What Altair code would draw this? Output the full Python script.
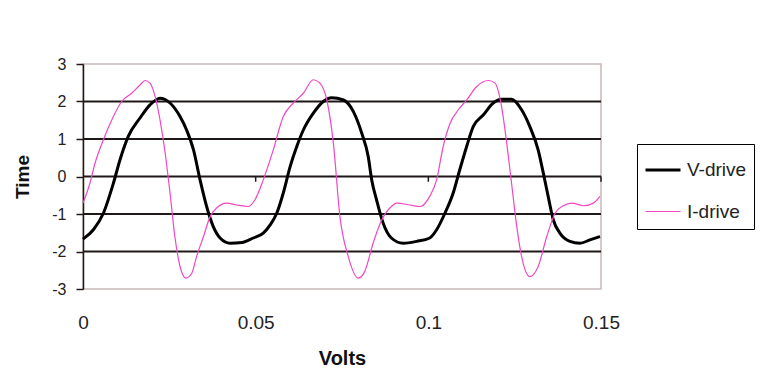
import altair as alt
import pandas as pd

# V-drive (black, thick)
v_x = [0.0, 0.003, 0.0059, 0.0088, 0.0107, 0.0131, 0.0165, 0.0194, 0.0223, 0.0252, 0.0281, 0.030,
       0.032, 0.0339, 0.0358, 0.0377, 0.0397, 0.0426, 0.046, 0.0493, 0.0522, 0.0542, 0.0561, 0.058,
       0.060, 0.0619, 0.0638, 0.0667, 0.0696, 0.072, 0.0754, 0.0783, 0.0807, 0.0826, 0.0836, 0.085,
       0.0869, 0.0893, 0.0927, 0.0966, 0.1004, 0.1024, 0.1048, 0.1072, 0.1091, 0.1111, 0.113, 0.1159,
       0.1188, 0.1212, 0.1241, 0.127, 0.1294, 0.1318, 0.1333, 0.1347, 0.1362, 0.1381, 0.141, 0.1439,
       0.1468, 0.1497]
v_y = [-1.67, -1.42, -0.98, -0.18, 0.44, 1.07, 1.56, 1.91, 2.09, 1.96, 1.6, 1.24,
       0.71, -0.09, -0.8, -1.33, -1.64, -1.78, -1.76, -1.64, -1.51, -1.29, -0.98, -0.44,
       0.27, 0.8, 1.24, 1.69, 2.0, 2.1, 2.04, 1.73, 1.16, 0.53, -0.09, -0.62,
       -1.24, -1.64, -1.78, -1.73, -1.64, -1.42, -0.98, -0.44, 0.18, 0.8, 1.33, 1.64,
       1.96, 2.06, 2.06, 1.78, 1.33, 0.71, 0.09, -0.53, -1.16, -1.51, -1.73, -1.78,
       -1.69, -1.6]

# I-drive (pink, thin)
i_x = [0.0, 0.002, 0.0035, 0.0059, 0.0088, 0.0112, 0.0141, 0.0165, 0.018, 0.0194, 0.0209, 0.0223,
       0.0238, 0.0252, 0.0266, 0.0281, 0.0298, 0.0315, 0.0329, 0.0349, 0.0368, 0.0387, 0.0416, 0.0445,
       0.0479, 0.0498, 0.0522, 0.0551, 0.058, 0.0609, 0.0638, 0.0667, 0.0686, 0.0706, 0.0725, 0.0744,
       0.0768, 0.0797, 0.0816, 0.084, 0.0865, 0.0893, 0.0908, 0.0947, 0.0976, 0.1004, 0.1024, 0.1043,
       0.1063, 0.1087, 0.1111, 0.114, 0.1174, 0.1193, 0.1212, 0.1227, 0.1241, 0.1256, 0.127, 0.1294,
       0.1318, 0.1343, 0.1367, 0.1391, 0.1415, 0.145, 0.1478, 0.1497]
i_y = [-0.71, -0.18, 0.36, 0.98, 1.6, 2.0, 2.22, 2.44, 2.56, 2.49, 2.13, 1.51,
       0.62, -0.44, -1.6, -2.4, -2.71, -2.58, -2.13, -1.6, -1.07, -0.84, -0.71, -0.76,
       -0.8, -0.62, -0.09, 0.71, 1.6, 1.96, 2.22, 2.58, 2.49, 2.04, 0.89, -1.07,
       -2.13, -2.71, -2.53, -1.78, -1.16, -0.8, -0.71, -0.76, -0.8, -0.53, -0.09, 0.8,
       1.42, 1.78, 2.04, 2.4, 2.56, 2.49, 1.87, 0.89, -0.18, -1.33, -2.13, -2.67,
       -2.4, -1.6, -0.98, -0.78, -0.71, -0.78, -0.71, -0.53]

series_names = ["V-drive", "I-drive"]
series_colors = ["#000000", "#f048c4"]
series_widths = [3, 1.2]

grid_values = [2, 1, 0, -1, -2]
x_tick_values = [0, 0.05, 0.1, 0.15]
y_tick_values = [3, 2, 1, 0, -1, -2, -3]
zero_ticks = [0.05, 0.1, 0.15]

df = pd.concat([
    pd.DataFrame({"x": v_x, "y": v_y, "series": series_names[0], "order": range(len(v_x))}),
    pd.DataFrame({"x": i_x, "y": i_y, "series": series_names[1], "order": range(len(i_x))}),
])

xscale = alt.Scale(domain=[0, 0.15], nice=False, zero=False)
yscale = alt.Scale(domain=[-3, 3], nice=False)

xaxis = alt.Axis(values=x_tick_values, labelExpr="'' + datum.value", grid=False, domain=False,
                 ticks=False, labelFlush=False, labelOverlap=False,
                 labelFontSize=19, labelPadding=24, titleFontSize=20, titlePadding=16)
yaxis = alt.Axis(values=y_tick_values, grid=False, domain=True,
                 labelExpr="datum.value < 0 ? '-' + abs(datum.value) : '' + datum.value",
                 domainColor="#201818", domainWidth=1.5, tickColor="#201818",
                 tickSize=7, tickWidth=1.5, labelFontSize=16, labelPadding=10,
                 labelFlush=False, labelOverlap=False,
                 titleFontSize=19, titlePadding=19)

grid = alt.Chart(pd.DataFrame({"g": grid_values})).mark_rule(
    color="#201818", strokeWidth=2
).encode(y=alt.Y("g:Q", scale=yscale, title="Time", axis=yaxis))

zt = alt.Chart(pd.DataFrame({"t": zero_ticks, "a": 0, "b": -0.14})).mark_rule(
    color="#201818", strokeWidth=1.5
).encode(x=alt.X("t:Q", scale=xscale, title="Volts", axis=xaxis),
         y=alt.Y("a:Q", scale=yscale, title="Time", axis=yaxis), y2="b:Q")

lines = alt.Chart(df).mark_line(interpolate="monotone").encode(
    x=alt.X("x:Q", scale=xscale, title="Volts", axis=xaxis),
    y=alt.Y("y:Q", scale=yscale, title="Time", axis=yaxis),
    color=alt.Color("series:N", scale=alt.Scale(domain=series_names, range=series_colors),
                    title=None,
                    legend=alt.Legend(orient="none", legendX=554, legendY=80,
                                      symbolType="stroke", symbolSize=1225,
                                      strokeColor="#000000", padding=7,
                                      labelFontSize=19, rowPadding=13, labelOffset=5,
                                      labelFont="Liberation Sans", labelColor="#222222")),
    strokeWidth=alt.StrokeWidth("series:N", scale=alt.Scale(domain=series_names, range=series_widths),
                                title=None, legend=None),
    order="order:Q",
)

chart = alt.layer(grid, zt, lines).properties(
    width=518, height=225,
    background="white",
    autosize=alt.AutoSizeParams(type="none"),
    padding={"left": 75, "top": 56, "right": 156, "bottom": 85},
).configure_view(
    stroke="#c8b8b8", strokeWidth=1.5
).configure_axis(
    labelFont="Liberation Sans", labelColor="#222222",
    titleFont="Liberation Sans", titleFontWeight="bold", titleColor="#111111",
)

chart.save("out.html", embed_options={"renderer": "svg", "actions": False})
